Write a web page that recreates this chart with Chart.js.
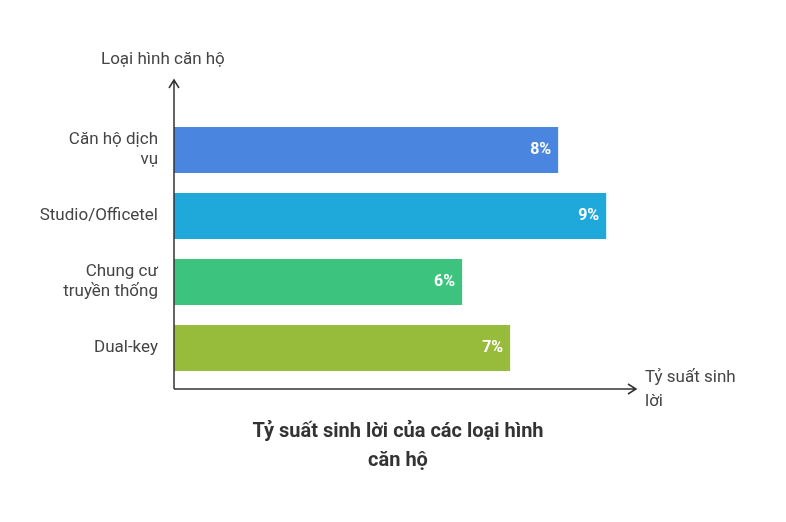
<!DOCTYPE html>
<html><head><meta charset="utf-8">
<script src="https://cdn.jsdelivr.net/npm/chart.js@4"></script>
<style>body{margin:0;background:#fff}</style>
</head><body>
<canvas id="c" width="786" height="522"></canvas>
<script>
const categories = [["Căn hộ dịch", "vụ"], "Studio/Officetel", ["Chung cư", "truyền thống"], "Dual-key"];
const values = [8, 9, 6, 7];
const colors = ["#4a86e0", "#1fa9db", "#3cc47f", "#97bb3b"];
const FONT = "Roboto, 'Noto Sans', sans-serif";

const deco = {
  id: "deco",
  afterDraw(chart) {
    const ctx = chart.ctx, a = chart.chartArea;
    const ox = a.left, oy = a.bottom + 8;
    ctx.save();
    ctx.strokeStyle = "#333"; ctx.lineWidth = 1.5;
    ctx.beginPath();
    ctx.moveTo(ox, oy); ctx.lineTo(ox, 80);
    ctx.moveTo(ox - 5, 88); ctx.lineTo(ox, 80); ctx.lineTo(ox + 5, 88);
    ctx.moveTo(ox, oy); ctx.lineTo(636, oy);
    ctx.moveTo(628, oy - 5); ctx.lineTo(636, oy); ctx.lineTo(628, oy + 5);
    ctx.stroke();
    ctx.fillStyle = "#444"; ctx.font = "17px " + FONT;
    ctx.textBaseline = "middle"; ctx.textAlign = "left";
    ctx.fillText("Loại hình căn hộ", 101, 60);
    ctx.fillText("Tỷ suất sinh", 645, 378);
    ctx.fillText("lời", 645, 402);
    ctx.fillStyle = "#333"; ctx.font = "bold 20px " + FONT; ctx.textAlign = "center";
    ctx.fillText("Tỷ suất sinh lời của các loại hình", 398, 432);
    ctx.fillText("căn hộ", 398, 461);
    const meta = chart.getDatasetMeta(0);
    ctx.fillStyle = "#fff"; ctx.font = "bold 16px " + FONT; ctx.textAlign = "right";
    meta.data.forEach((b, i) => ctx.fillText(values[i] + "%", b.x - 7, b.y));
    ctx.restore();
  }
};

new Chart(document.getElementById("c"), {
  type: "bar",
  data: { labels: categories, datasets: [{ data: values, backgroundColor: colors, barPercentage: 0.7, categoryPercentage: 1 }] },
  options: {
    indexAxis: "y", responsive: false, animation: false,
    layout: { padding: { top: 117, bottom: 141, right: 151, left: 0 } },
    plugins: { legend: { display: false }, tooltip: { enabled: false } },
    scales: {
      x: { min: 0, max: 9.6, display: false },
      y: {
        grid: { display: false }, border: { display: false },
        afterFit(s) { s.width = 174; },
        ticks: { color: "#444", font: { size: 17, family: FONT }, padding: 8 }
      }
    }
  },
  plugins: [deco]
});
</script>
</body></html>
